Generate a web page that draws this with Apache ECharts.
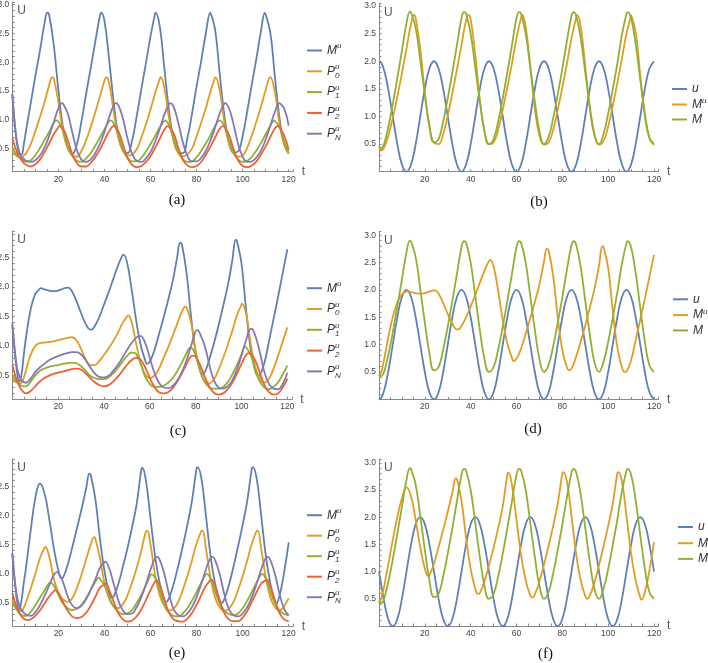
<!DOCTYPE html>
<html>
<head>
<meta charset="utf-8">
<script src="https://cdn.jsdelivr.net/npm/echarts@6.0.0/dist/echarts.min.js"></script>
<style>
  body { margin: 0; width: 708px; height: 663px; background: #fff; position: relative; overflow: hidden; }
  .p { position: absolute; width: 354px; height: 221px; }
</style>
</head>
<body>
<div id="a" class="p" style="left:0;top:0"></div>
<div id="b" class="p" style="left:354px;top:0"></div>
<div id="c" class="p" style="left:0;top:221px"></div>
<div id="d" class="p" style="left:354px;top:221px"></div>
<div id="e" class="p" style="left:0;top:442px"></div>
<div id="f" class="p" style="left:354px;top:442px"></div>
<script type="text/javascript">
// time points shared by every curve
var tGrid = [0,1,2,3,4,5,6,8,10,12,14,16,18,20,22,24,26,28,30,32,34,36,38,40,42,44,46,48,50,52,54,56,58,60,62,64,66,68,70,72,74,76,78,80,82,84,86,88,90,92,94,96,98,100,102,104,106,108,110,112,114,116,118,120];

// panel (a)
var muA = [1.45,0.95,0.60,0.42,0.40,0.58,0.82,1.29,1.76,2.20,2.68,2.82,2.30,1.52,0.87,0.52,0.41,0.57,0.97,1.44,1.89,2.35,2.80,2.72,2.06,1.31,0.74,0.47,0.42,0.64,1.06,1.53,1.98,2.45,2.85,2.63,1.90,1.17,0.66,0.44,0.42,0.68,1.10,1.58,2.02,2.50,2.86,2.58,1.82,1.10,0.62,0.43,0.45,0.72,1.15,1.62,2.07,2.55,2.86,2.52,1.75,1.04,0.59,0.43];
var p0A = [0.45,0.40,0.37,0.35,0.35,0.38,0.42,0.58,0.80,1.05,1.31,1.60,1.72,1.31,0.80,0.51,0.39,0.36,0.46,0.64,0.87,1.13,1.40,1.68,1.64,1.15,0.69,0.46,0.38,0.40,0.49,0.69,0.92,1.18,1.46,1.71,1.56,1.04,0.63,0.43,0.37,0.40,0.50,0.71,0.95,1.20,1.49,1.73,1.52,0.98,0.60,0.42,0.36,0.38,0.52,0.73,0.97,1.23,1.52,1.74,1.48,0.93,0.57,0.41];
var p1A = [0.52,0.45,0.40,0.35,0.32,0.29,0.27,0.30,0.39,0.51,0.65,0.79,0.95,0.97,0.81,0.56,0.37,0.29,0.27,0.33,0.42,0.55,0.69,0.84,0.97,0.94,0.74,0.49,0.34,0.28,0.28,0.34,0.45,0.58,0.72,0.87,0.98,0.91,0.69,0.45,0.32,0.27,0.28,0.35,0.46,0.59,0.73,0.89,0.99,0.90,0.66,0.43,0.31,0.27,0.29,0.36,0.47,0.60,0.75,0.90,0.98,0.88,0.63,0.42];
var p2A = [0.68,0.55,0.45,0.36,0.30,0.25,0.22,0.19,0.23,0.31,0.44,0.59,0.75,0.87,0.85,0.66,0.41,0.25,0.19,0.19,0.25,0.35,0.48,0.64,0.80,0.89,0.81,0.58,0.34,0.22,0.18,0.20,0.27,0.37,0.51,0.67,0.83,0.88,0.77,0.53,0.31,0.21,0.18,0.20,0.27,0.39,0.53,0.69,0.84,0.88,0.75,0.50,0.30,0.20,0.18,0.21,0.28,0.40,0.54,0.70,0.85,0.87,0.73,0.48];
var pnA = [1.45,0.95,0.62,0.45,0.36,0.32,0.29,0.27,0.30,0.38,0.52,0.72,0.96,1.20,1.28,1.12,0.79,0.48,0.31,0.27,0.31,0.42,0.58,0.79,1.04,1.25,1.26,1.03,0.68,0.41,0.29,0.27,0.33,0.44,0.62,0.84,1.09,1.27,1.23,0.96,0.62,0.38,0.28,0.28,0.34,0.46,0.64,0.86,1.11,1.28,1.21,0.93,0.59,0.36,0.27,0.28,0.35,0.47,0.66,0.89,1.14,1.29,1.20,0.90];
var muAPk = [[15.2,2.86],[38.6,2.86],[62.2,2.86],[86.1,2.86],[109.7,2.86]];
var p0APk = [[17.4,1.74],[40.8,1.74],[64.4,1.74],[88.2,1.74]];
var p1APk = [[19.2,0.99],[42.6,0.99],[66.2,0.99],[113.8,0.99]];
var p2APk = [[20.6,0.89],[67.6,0.89],[91.4,0.89],[115.2,0.89]];
var pnAPk = [[21.5,1.29],[44.9,1.29],[68.5,1.29],[92.3,1.29],[116.1,1.29]];

// panels (b) (d) (f): light input u, M is the same in all three
var uB = [2,1.97,1.87,1.71,1.5,1.26,1,0.5,0.13,0,0.13,0.5,1,1.5,1.87,2,1.87,1.5,1,0.5,0.13,0,0.13,0.5,1,1.5,1.87,2,1.87,1.5,1,0.5,0.13,0,0.13,0.5,1,1.5,1.87,2,1.87,1.5,1,0.5,0.13,0,0.13,0.5,1,1.5,1.87,2,1.87,1.5,1,0.5,0.13,0,0.13,0.5,1,1.5,1.87,2];
var uD = [0,0.03,0.13,0.29,0.5,0.74,1,1.5,1.87,2,1.87,1.5,1,0.5,0.13,0,0.13,0.5,1,1.5,1.87,2,1.87,1.5,1,0.5,0.13,0,0.13,0.5,1,1.5,1.87,2,1.87,1.5,1,0.5,0.13,0,0.13,0.5,1,1.5,1.87,2,1.87,1.5,1,0.5,0.13,0,0.13,0.5,1,1.5,1.87,2,1.87,1.5,1,0.5,0.13,0];
var uF = [1,0.74,0.5,0.29,0.13,0.03,0,0.13,0.5,1,1.5,1.87,2,1.87,1.5,1,0.5,0.13,0,0.13,0.5,1,1.5,1.87,2,1.87,1.5,1,0.5,0.13,0,0.13,0.5,1,1.5,1.87,2,1.87,1.5,1,0.5,0.13,0,0.13,0.5,1,1.5,1.87,2,1.87,1.5,1,0.5,0.13,0,0.13,0.5,1,1.5,1.87,2,1.87,1.5,1];
var mB = [0.46,0.42,0.48,0.62,0.80,1.00,1.22,1.70,2.19,2.69,2.88,2.60,2.02,1.40,0.84,0.53,0.59,0.91,1.33,1.80,2.29,2.78,2.86,2.50,1.89,1.27,0.74,0.50,0.59,0.91,1.33,1.80,2.29,2.78,2.86,2.50,1.89,1.27,0.74,0.50,0.63,0.97,1.40,1.87,2.37,2.82,2.83,2.42,1.80,1.18,0.68,0.50,0.69,1.05,1.49,1.96,2.48,2.86,2.78,2.31,1.67,1.06,0.62,0.50];
var mBPk = [[13.5,2.90],[37.1,2.89],[61.1,2.89],[84.9,2.89],[108.5,2.89]];
var muB = [0.42,0.38,0.42,0.52,0.64,0.80,0.97,1.36,1.78,2.23,2.68,2.78,2.23,1.42,0.81,0.52,0.50,0.68,1.02,1.42,1.85,2.30,2.74,2.76,2.12,1.30,0.74,0.50,0.53,0.76,1.12,1.53,1.96,2.42,2.79,2.63,1.91,1.14,0.66,0.49,0.53,0.76,1.12,1.53,1.96,2.42,2.79,2.63,1.91,1.14,0.66,0.49,0.56,0.82,1.20,1.61,2.05,2.51,2.83,2.53,1.74,1.01,0.60,0.48];
var muBPk = [[15.3,2.84],[39.0,2.84],[62.5,2.84],[86.5,2.84],[110.1,2.84]];
var muD = [0.42,0.50,0.68,0.90,1.12,1.32,1.50,1.77,1.92,1.97,1.96,1.94,1.93,1.94,1.97,1.99,1.93,1.76,1.56,1.38,1.28,1.34,1.50,1.70,1.91,2.13,2.35,2.53,2.43,1.98,1.45,1.02,0.76,0.74,0.93,1.20,1.48,1.78,2.10,2.52,2.72,2.25,1.50,0.90,0.58,0.56,0.78,1.05,1.35,1.68,2.02,2.45,2.78,2.40,1.62,0.95,0.58,0.51,0.72,1.08,1.46,1.84,2.24,2.64];
var muDPk = [[12.4,1.98],[24.4,1.99],[34.5,1.28],[48.5,2.55],[58.7,0.70],[73.2,2.75],[82.9,0.53],[97.5,2.80],[107.2,0.50]];
var muF = [0.42,0.52,0.68,0.90,1.12,1.35,1.58,2.00,2.35,2.55,2.38,1.95,1.45,1.06,0.93,1.15,1.45,1.77,2.10,2.45,2.70,2.30,1.62,1.05,0.68,0.61,0.82,1.12,1.44,1.80,2.20,2.79,2.60,1.95,1.30,0.84,0.56,0.58,0.82,1.13,1.47,1.84,2.25,2.81,2.66,2.02,1.33,0.84,0.55,0.56,0.80,1.12,1.47,1.84,2.25,2.81,2.66,2.02,1.33,0.84,0.52,0.62,1.02,1.54];
var muFPk = [[21.4,0.92],[33.5,2.72],[43.2,0.59],[56.4,2.82],[66.9,0.52],[80.4,2.83],[90.9,0.50],[104.4,2.83],[114.5,0.48]];

// panel (c)
var muC = [1.35,0.95,0.58,0.40,0.52,0.85,1.15,1.62,1.88,1.97,1.96,1.94,1.93,1.94,1.97,1.99,1.93,1.76,1.56,1.38,1.28,1.34,1.50,1.70,1.91,2.13,2.35,2.53,2.43,1.98,1.45,1.02,0.76,0.74,0.93,1.20,1.48,1.78,2.10,2.52,2.72,2.25,1.50,0.90,0.58,0.56,0.78,1.05,1.35,1.68,2.02,2.45,2.78,2.40,1.62,0.95,0.58,0.51,0.72,1.08,1.46,1.84,2.24,2.64];
var p0C = [0.45,0.41,0.38,0.37,0.38,0.46,0.60,0.85,1.00,1.05,1.06,1.07,1.08,1.10,1.12,1.14,1.15,1.10,0.95,0.78,0.68,0.68,0.75,0.85,0.96,1.08,1.22,1.38,1.50,1.42,1.05,0.72,0.52,0.46,0.50,0.62,0.80,0.98,1.18,1.38,1.58,1.66,1.40,0.92,0.58,0.40,0.37,0.44,0.60,0.80,1.02,1.26,1.52,1.70,1.55,1.05,0.66,0.45,0.38,0.45,0.62,0.84,1.08,1.32];
var p0CPk = [[50.6,1.52],[75.6,1.67],[100.1,1.72]];
var p1C = [0.52,0.45,0.40,0.36,0.33,0.32,0.32,0.40,0.50,0.58,0.62,0.65,0.67,0.68,0.70,0.71,0.72,0.71,0.66,0.58,0.50,0.46,0.44,0.44,0.47,0.54,0.63,0.73,0.83,0.89,0.87,0.70,0.48,0.36,0.31,0.31,0.33,0.38,0.46,0.58,0.72,0.88,0.97,0.84,0.58,0.39,0.30,0.28,0.28,0.31,0.39,0.52,0.68,0.86,0.98,0.85,0.60,0.40,0.30,0.27,0.31,0.39,0.52,0.67];
var p1CPk = [[52.7,0.89],[77.5,0.97],[101.5,0.99]];
var p2C = [0.68,0.54,0.42,0.33,0.26,0.22,0.20,0.24,0.32,0.40,0.46,0.50,0.53,0.55,0.57,0.59,0.61,0.62,0.60,0.54,0.46,0.39,0.34,0.32,0.34,0.40,0.48,0.58,0.68,0.76,0.80,0.77,0.64,0.46,0.31,0.22,0.20,0.22,0.29,0.40,0.54,0.69,0.83,0.82,0.68,0.48,0.31,0.21,0.18,0.20,0.27,0.38,0.53,0.70,0.85,0.87,0.76,0.55,0.34,0.22,0.18,0.20,0.30,0.45];
var p2CPk = [[54.5,0.80],[79.0,0.84],[103.1,0.88]];
var pnC = [1.40,0.95,0.65,0.50,0.42,0.39,0.38,0.45,0.56,0.64,0.70,0.76,0.80,0.83,0.86,0.88,0.90,0.90,0.86,0.76,0.64,0.54,0.48,0.47,0.50,0.58,0.68,0.80,0.93,1.05,1.14,1.17,1.05,0.80,0.55,0.38,0.30,0.29,0.33,0.42,0.56,0.76,1.00,1.25,1.20,1.00,0.68,0.42,0.30,0.28,0.32,0.42,0.60,0.84,1.10,1.29,1.18,0.90,0.56,0.36,0.28,0.27,0.36,0.55];
var pnCPk = [[55.3,1.17],[80.8,1.27],[104.5,1.29]];

// panel (e)
var muE = [1.35,0.90,0.55,0.37,0.55,0.85,1.12,1.75,2.30,2.55,2.38,1.95,1.45,1.06,0.93,1.15,1.45,1.77,2.10,2.45,2.70,2.30,1.62,1.05,0.68,0.61,0.82,1.12,1.44,1.80,2.20,2.79,2.60,1.95,1.30,0.84,0.56,0.58,0.82,1.13,1.47,1.84,2.25,2.81,2.66,2.02,1.33,0.84,0.55,0.56,0.80,1.12,1.47,1.84,2.25,2.81,2.66,2.02,1.33,0.84,0.52,0.62,1.02,1.54];
var p0E = [0.55,0.46,0.40,0.36,0.36,0.42,0.52,0.75,1.00,1.27,1.45,1.30,0.92,0.68,0.56,0.52,0.58,0.75,0.98,1.24,1.50,1.61,1.28,0.85,0.58,0.44,0.41,0.48,0.63,0.85,1.10,1.40,1.72,1.50,0.98,0.63,0.45,0.37,0.40,0.52,0.72,0.96,1.23,1.52,1.73,1.45,0.95,0.60,0.43,0.37,0.40,0.52,0.72,0.96,1.23,1.52,1.73,1.45,0.95,0.60,0.43,0.37,0.45,0.58];
var p0EPk = [[14.3,1.46],[35.6,1.63],[58.6,1.74],[82.6,1.74],[106.6,1.74]];
var p1E = [0.52,0.44,0.38,0.33,0.30,0.28,0.28,0.35,0.46,0.59,0.72,0.84,0.80,0.64,0.49,0.41,0.38,0.40,0.47,0.58,0.72,0.86,0.92,0.80,0.60,0.44,0.35,0.31,0.32,0.38,0.50,0.64,0.80,0.98,0.93,0.72,0.47,0.33,0.28,0.27,0.32,0.41,0.54,0.69,0.85,0.99,0.92,0.70,0.50,0.37,0.31,0.29,0.32,0.41,0.54,0.69,0.85,0.99,0.92,0.70,0.50,0.37,0.31,0.29];
var p1EPk = [[16.5,0.85],[37.6,0.94],[60.5,0.99],[84.5,1.00],[108.5,1.00]];
var p2E = [0.67,0.53,0.42,0.33,0.27,0.23,0.21,0.22,0.28,0.37,0.49,0.61,0.70,0.67,0.52,0.37,0.27,0.24,0.26,0.33,0.45,0.60,0.76,0.82,0.73,0.52,0.33,0.22,0.18,0.20,0.27,0.39,0.55,0.72,0.87,0.80,0.56,0.34,0.22,0.19,0.18,0.23,0.33,0.47,0.63,0.79,0.89,0.79,0.55,0.33,0.22,0.19,0.19,0.25,0.36,0.52,0.68,0.83,0.89,0.79,0.55,0.33,0.22,0.19];
var p2EPk = [[18.7,0.72],[40.5,0.83],[62.5,0.89],[86.5,0.90],[110.5,0.90]];
var pnE = [1.35,0.92,0.62,0.46,0.38,0.33,0.30,0.28,0.34,0.46,0.62,0.80,0.98,1.02,0.86,0.62,0.46,0.41,0.45,0.56,0.72,0.90,1.10,1.20,1.10,0.83,0.55,0.37,0.31,0.32,0.43,0.60,0.82,1.07,1.27,1.24,1.00,0.66,0.40,0.29,0.27,0.32,0.43,0.60,0.82,1.07,1.27,1.24,1.00,0.66,0.40,0.29,0.27,0.32,0.43,0.60,0.82,1.07,1.27,1.24,1.00,0.66,0.40,0.29];
var pnEPk = [[19.3,1.03],[40.3,1.21],[62.9,1.29],[86.9,1.29],[110.9,1.29]];

// Mathematica default colours
var blue = '#5E81B5', orange = '#E19C24', green = '#8FB032', red = '#EB6235', purple = '#8778B3';

// legend texts with super/subscripts
var legendText = {
    Mu: '{i|M}{sup|u}',
    P0: '{i|P}{sub|0}{sup|u}',
    P1: '{i|P}{sub|1}{sup|u}',
    P2: '{i|P}{sub|2}{sup|u}',
    PN: '{i|P}{subi|N}{sup|u}',
    u: '{i|u}',
    M: '{i|M}'
};

function drawPanel(id, cfg) {
    var chart = echarts.init(document.getElementById(id));
    var series = cfg.lines.map(function (l) {
        // grid samples plus the read-off extrema, in time order
        var pts = tGrid.map(function (t, i) { return [t, l[2][i]]; }).concat(l[3] || []);
        pts.sort(function (p, q) { return p[0] - q[0]; });
        return {
            name: l[0], type: 'line', data: pts,
            showSymbol: false, smooth: 0.45,
            itemStyle: { color: l[1] },
            lineStyle: { width: 1.8, color: l[1] },
            silent: true
        };
    });
    chart.setOption({
        animation: false,
        grid: { left: cfg.g[0], top: cfg.g[1], width: cfg.g[2], height: cfg.g[3], outerBoundsMode: 'none', containLabel: false },
        xAxis: {
            type: 'value', min: 0, max: 122, interval: 5,
            name: 't', nameLocation: 'end', nameGap: 8,
            nameTextStyle: { color: '#555', fontSize: 12, fontFamily: 'Liberation Sans' },
            axisLine: { onZero: false, lineStyle: { color: '#888', width: 1 } },
            axisTick: { inside: true, length: 2.5, lineStyle: { color: '#888' } },
            axisLabel: {
                margin: 3, fontSize: 8.5, color: '#444', fontFamily: 'Liberation Sans',
                formatter: function (v) { return (v > 0 && v % 20 === 0) ? String(v) : ''; }
            },
            splitLine: { show: false }
        },
        yAxis: {
            type: 'value', min: cfg.y[0], max: cfg.y[1], interval: 0.1,
            name: 'U', nameLocation: 'end', nameGap: -15,
            nameTextStyle: { color: '#555', fontSize: 12, fontFamily: 'Liberation Sans', align: 'left', padding: [0, 0, 0, 5] },
            axisLine: { show: true, onZero: false, lineStyle: { color: '#888', width: 1 } },
            axisTick: { show: true, inside: true, length: 2.5, lineStyle: { color: '#888' } },
            axisLabel: {
                margin: 3, fontSize: 8.5, color: '#444', fontFamily: 'Liberation Sans',
                formatter: function (v) {
                    var k = Math.round(v * 10);
                    return (k >= 5 && k % 5 === 0 && Math.abs(v * 10 - k) < 1e-6) ? (k / 10).toFixed(1) : '';
                }
            },
            splitLine: { show: false }
        },
        legend: {
            orient: 'vertical', left: cfg.lg[0], top: cfg.lg[1], itemGap: cfg.lg[2], padding: 0,
            itemWidth: 15, itemHeight: 2, icon: 'rect', selectedMode: false,
            formatter: function (n) { return legendText[n]; },
            textStyle: {
                color: '#333', fontSize: 12, fontFamily: 'Liberation Sans', fontStyle: 'italic', lineHeight: cfg.lh,
                rich: {
                    i: { fontSize: 12, fontStyle: 'italic', color: '#333', fontFamily: 'Liberation Sans' },
                    sup: { fontSize: 8, fontStyle: 'italic', color: '#333', verticalAlign: 'top', height: 7, fontFamily: 'Liberation Sans' },
                    sub: { fontSize: 8, color: '#333', verticalAlign: 'bottom', width: 0, fontFamily: 'Liberation Sans' },
                    subi: { fontSize: 8, fontStyle: 'italic', color: '#333', verticalAlign: 'bottom', width: 0, fontFamily: 'Liberation Sans' }
                }
            }
        },
        graphic: [{
            type: 'text', x: cfg.cap[0], y: cfg.cap[1],
            style: {
                text: cfg.caption, font: '15px "Liberation Serif"', fill: '#111',
                align: 'center', verticalAlign: 'middle', textAlign: 'center', textVerticalAlign: 'middle'
            }
        }],
        series: series
    });
}

drawPanel('a', {
    g: [12.3, 1.8, 281, 169.9], y: [0.1, 3.05], lg: [307, 42, 4.3], lh: 16, cap: [177, 200], caption: '(a)',
    lines: [['Mu', blue, muA, muAPk], ['P0', orange, p0A, p0APk], ['P1', green, p1A, p1APk], ['P2', red, p2A, p2APk], ['PN', purple, pnA, pnAPk]]
});
drawPanel('b', {
    g: [25, 3.3, 279.6, 168.4], y: [0, 3.05], lg: [318, 82, 1], lh: 14, cap: [185, 202], caption: '(b)',
    lines: [['u', blue, uB], ['Mu', orange, muB, muBPk], ['M', green, mB, mBPk]]
});
drawPanel('c', {
    g: [12.3, 9.9, 279.6, 168.4], y: [0.1, 2.95], lg: [307, 58.7, 4.3], lh: 16, cap: [178, 210], caption: '(c)',
    lines: [['Mu', blue, muC, muDPk], ['P0', orange, p0C, p0CPk], ['P1', green, p1C, p1CPk], ['P2', red, p2C, p2CPk], ['PN', purple, pnC, pnCPk]]
});
drawPanel('d', {
    g: [25, 10.4, 279.6, 167.9], y: [0, 3.07], lg: [319, 71.3, 1.3], lh: 14, cap: [179, 208], caption: '(d)',
    lines: [['u', blue, uD], ['Mu', orange, muD, muDPk], ['M', green, mB, mBPk]]
});
drawPanel('e', {
    g: [12.3, 17, 281, 167.3], y: [0.1, 2.97], lg: [307, 64.7, 4], lh: 16, cap: [177, 211.5], caption: '(e)',
    lines: [['Mu', blue, muE, muFPk], ['P0', orange, p0E, p0EPk], ['P1', green, p1E, p1EPk], ['P2', red, p2E, p2EPk], ['PN', purple, pnE, pnEPk]]
});
drawPanel('f', {
    g: [25, 17, 279.6, 167], y: [0, 3.07], lg: [324, 78, 1.7], lh: 14, cap: [191.5, 212], caption: '(f)',
    lines: [['u', blue, uF], ['Mu', orange, muF, muFPk], ['M', green, mB, mBPk]]
});
</script>
</body>
</html>
